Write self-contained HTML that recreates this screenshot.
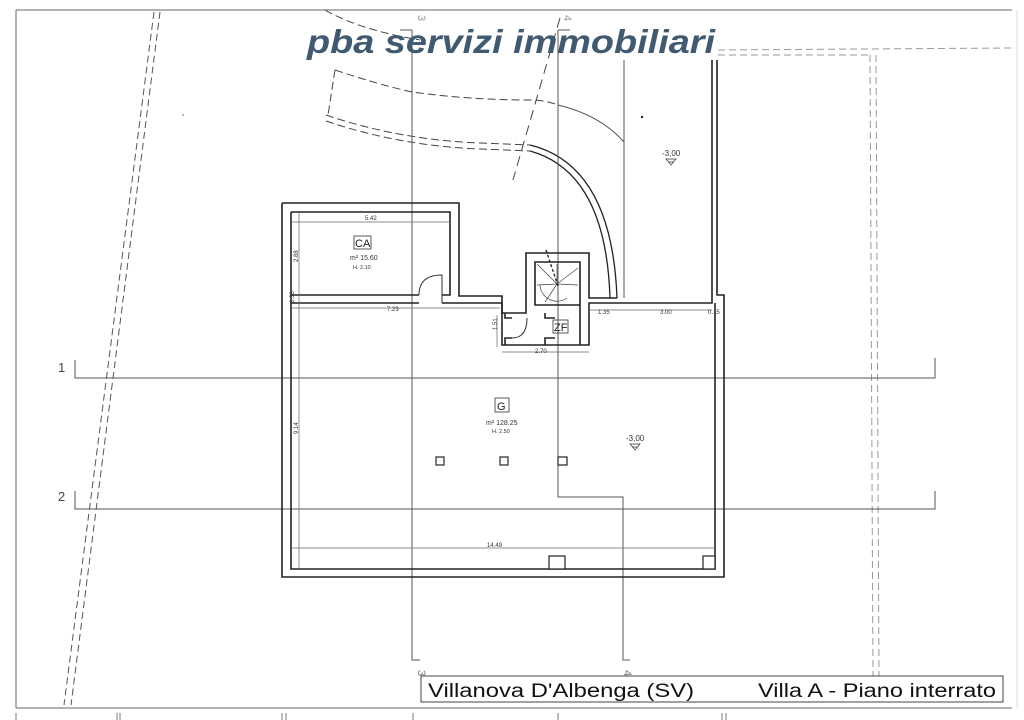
<!DOCTYPE html>
<html><head><meta charset="utf-8"><style>
html,body{margin:0;padding:0;background:#fff;}
svg{display:block;}
text{font-family:"Liberation Sans",sans-serif;}
</style></head><body>
<svg width="1024" height="720" viewBox="0 0 1024 720" xmlns="http://www.w3.org/2000/svg">
<rect width="1024" height="720" fill="#fff"/>
<!-- frame -->
<g stroke="#666" stroke-width="1" fill="none">
<line x1="16" y1="10" x2="1012" y2="10"/>
<line x1="16" y1="10" x2="16" y2="708"/>
<line x1="16" y1="708" x2="1012" y2="708"/>
<line x1="1017" y1="10" x2="1017" y2="708" stroke="#ddd"/>
</g>
<!-- bottom ticks -->
<g stroke="#777" stroke-width="1">
<line x1="16" y1="713" x2="16" y2="720"/><line x1="117" y1="713" x2="117" y2="720"/><line x1="120" y1="713" x2="120" y2="720"/>
<line x1="282" y1="713" x2="282" y2="720"/><line x1="286" y1="713" x2="286" y2="720"/><line x1="413" y1="713" x2="413" y2="720"/>
<line x1="558" y1="713" x2="558" y2="720"/><line x1="722" y1="713" x2="722" y2="720"/><line x1="726" y1="713" x2="726" y2="720"/>
</g>
<!-- left dashed diagonal -->
<g stroke="#555" stroke-width="1" stroke-dasharray="7,4" fill="none">
<line x1="154" y1="12" x2="64" y2="705"/>
<line x1="160" y1="12" x2="71" y2="705"/>
</g>
<!-- right dashed -->
<g stroke="#999" stroke-width="1" stroke-dasharray="7,4" fill="none">
<line x1="718" y1="50" x2="1012" y2="48"/>
<line x1="718" y1="55" x2="870" y2="55"/>
<line x1="870" y1="55" x2="873" y2="680"/>
<line x1="876" y1="55" x2="879" y2="680"/>
</g>
<!-- top dashed curves -->
<g stroke="#444" stroke-width="1" stroke-dasharray="8,4" fill="none">
<path d="M325,10 Q360,30 420,40"/>
<path d="M335,70 L328,115"/>
<path d="M335,70 Q380,85 412,92 Q470,100 530,100 Q545,100 558,105"/>
<path d="M326,115 Q400,140 480,143 L530,145"/>
<path d="M326,121 Q400,146 480,149 L530,151"/>
<path d="M560,18 L513,180" stroke-dasharray="10,6"/>
</g>
<path d="M558,105 Q600,115 624,142" stroke="#555" fill="none"/>
<!-- arc -->
<path d="M530,145 Q612,165 617,298" stroke="#222" stroke-width="1.3" fill="none"/>
<path d="M530,151 Q606,172 610,298" stroke="#222" stroke-width="1.3" fill="none"/>
<!-- grid lines -->
<g stroke="#555" stroke-width="1" fill="none">
<path d="M75,360 L75,378 L935,378 L935,358"/>
<path d="M75,491 L75,509 L935,509 L935,491"/>
<path d="M412,30 L412,660 L420,660"/>
<path d="M400,30 L412,30"/>
<path d="M558,30 L558,497 L623,497 L623,660 L630,660"/>
<path d="M558,30 L570,30"/>
<line x1="624" y1="60" x2="624" y2="298"/>
</g>
<text x="58" y="372" font-size="13" fill="#444">1</text>
<text x="58" y="501" font-size="13" fill="#444">2</text>
<text x="418" y="680" font-size="11" fill="#777" transform="rotate(90 423 675)">3</text>
<text x="624" y="680" font-size="11" fill="#777" transform="rotate(90 629 675)">4</text>
<text x="418" y="25" font-size="11" fill="#999" transform="rotate(90 423 20)">3</text>
<text x="564" y="25" font-size="11" fill="#999" transform="rotate(90 569 20)">4</text>
<!-- building walls -->
<g stroke="#222" stroke-width="1.6" fill="none">
<path d="M282,203 L459,203 L459,296 L502,296 L502,313 L526,313 L526,253 L589,253 L589,298 L617,298"/>
<path d="M282,203 L282,577 L724,577 L724,295 L717,295 L717,60"/>
<path d="M291,212 L450,212 L450,295 L442,295"/>
<path d="M419,295 L291,295"/>
<path d="M291,303 L419,303"/>
<path d="M442,303 L502,303 L502,345 L589,345 L589,303 L712,303 L712,60"/>
<path d="M291,212 L291,569 L715,569 L715,303"/>
<path d="M535,262 L580,262 L580,305 L535,305 Z"/>
<path d="M505,313 L505,318 L512,318"/>
<path d="M505,345 L505,338 L512,338"/>
<path d="M545,313 L545,318 L555,318"/>
<path d="M545,345 L545,338 L555,338"/>
<path d="M580,305 L580,345"/>
</g>
<path d="M419,295 Q419,275 442,275 L442,303" stroke="#333" fill="none"/>
<path d="M512,338 Q527,338 527,318" stroke="#333" fill="none"/>
<!-- stair -->
<g stroke="#444" stroke-width="0.7" fill="none">
<line x1="537" y1="264" x2="557" y2="284"/><line x1="557" y1="264" x2="557" y2="284"/><line x1="578" y1="268" x2="557" y2="284"/>
<line x1="578" y1="285" x2="557" y2="284"/><line x1="537" y1="285" x2="557" y2="284"/><line x1="545" y1="302" x2="557" y2="284"/>
<path d="M540,285 A17,17 0 0 0 567,298"/>
</g>
<line x1="546" y1="250" x2="558" y2="286" stroke="#222" stroke-width="1.3" stroke-dasharray="3,2"/>
<!-- thin inner lines -->
<g stroke="#666" stroke-width="0.7" fill="none">
<line x1="299" y1="212" x2="299" y2="569"/>
<line x1="291" y1="222" x2="450" y2="222"/>
<line x1="291" y1="308" x2="500" y2="308"/>
<line x1="589" y1="310" x2="712" y2="310"/>
<line x1="291" y1="548" x2="715" y2="548"/>
<line x1="502" y1="352" x2="589" y2="352"/>
<line x1="497" y1="315" x2="497" y2="347"/>
</g>
<!-- pillars -->
<g stroke="#222" stroke-width="1.2" fill="#fff">
<rect x="436" y="457" width="8" height="8"/><rect x="500" y="457" width="8" height="8"/><rect x="558" y="457" width="9" height="8"/>
<rect x="549" y="556" width="16" height="13"/><rect x="703" y="556" width="12" height="13"/>
</g>
<!-- labels -->
<g fill="#333">
<text x="365" y="220" font-size="6">5.42</text>
<text x="387" y="311" font-size="6">7.23</text>
<text x="598" y="314" font-size="6">1.35</text>
<text x="660" y="314" font-size="6">3.00</text>
<text x="708" y="314" font-size="6">0.15</text>
<text x="535" y="353" font-size="6">2.70</text>
<text x="487" y="547" font-size="6">14.49</text>
<text x="0" y="0" font-size="6" transform="translate(298,262) rotate(-90)">2.88</text>
<text x="0" y="0" font-size="6" transform="translate(298,434) rotate(-90)">9.14</text>
<text x="0" y="0" font-size="6" transform="translate(497,330) rotate(-90)">1.51</text>
<text x="0" y="0" font-size="6" transform="translate(294,303) rotate(-90)">0.30</text>
</g>
<rect x="354" y="236" width="17" height="13" fill="none" stroke="#333" stroke-width="0.8"/>
<text x="355" y="247" font-size="11" fill="#222">CA</text>
<text x="350" y="260" font-size="7" fill="#333">m² 15.60</text>
<text x="353" y="269" font-size="5.5" fill="#333">H. 2.10</text>
<rect x="553" y="320" width="15" height="13" fill="none" stroke="#333" stroke-width="0.8"/>
<text x="554" y="331" font-size="11" fill="#222">ZF</text>
<rect x="495" y="398" width="14" height="14" fill="none" stroke="#333" stroke-width="0.8"/>
<text x="497" y="410" font-size="11" fill="#222">G</text>
<text x="486" y="425" font-size="7" fill="#333">m² 128.25</text>
<text x="492" y="433" font-size="5.5" fill="#333">H. 2.50</text>
<text x="626" y="441" font-size="8" fill="#333">-3,00</text>
<path d="M630,444 L640,444 L635,450 Z M632,447 L638,447" stroke="#333" fill="none" stroke-width="0.7"/>
<text x="662" y="156" font-size="8" fill="#333">-3,00</text>
<path d="M666,159 L676,159 L671,165 Z M668,162 L674,162" stroke="#333" fill="none" stroke-width="0.7"/>
<circle cx="642" cy="117" r="1.2" fill="#222"/>
<circle cx="183" cy="115" r="0.8" fill="#666"/>
<!-- logo -->
<text x="307" y="53" font-size="33" font-weight="bold" font-style="italic" fill="#405a72" textLength="408" lengthAdjust="spacingAndGlyphs">pba servizi immobiliari</text>
<!-- title box -->
<rect x="421" y="676" width="582" height="26" fill="#fff" stroke="#444" stroke-width="1"/>
<text x="428" y="697" font-size="19" fill="#111" textLength="266" lengthAdjust="spacingAndGlyphs">Villanova D'Albenga (SV)</text>
<text x="758" y="697" font-size="19" fill="#111" textLength="238" lengthAdjust="spacingAndGlyphs">Villa A - Piano interrato</text>
</svg>
</body></html>
